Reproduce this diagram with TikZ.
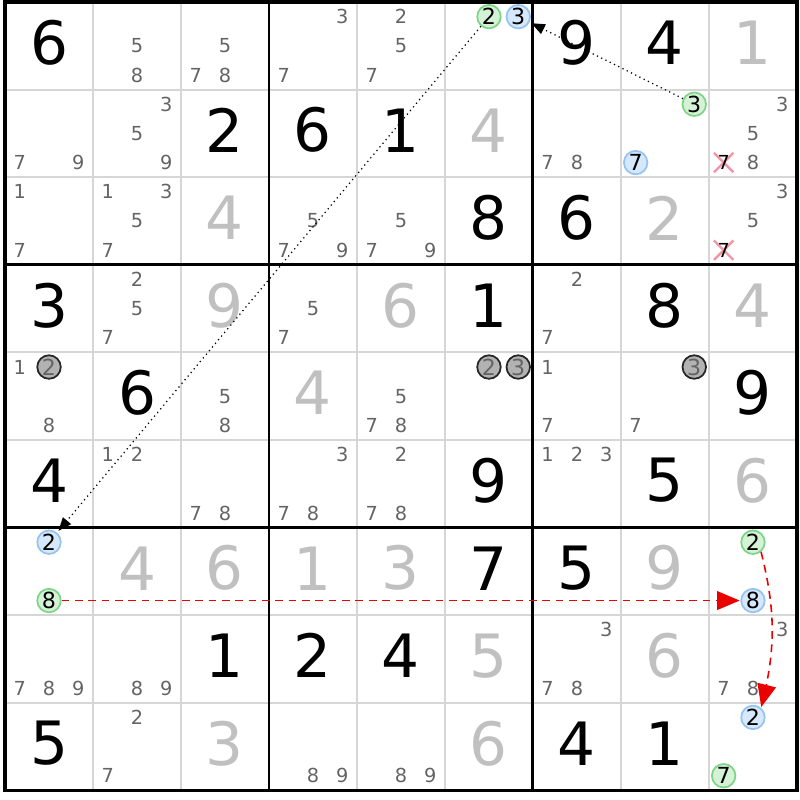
\documentclass[tikz,border=0pt]{standalone}
\usepackage{fontspec}
\setmainfont{DejaVu Sans}
\usetikzlibrary{arrows}
\usetikzlibrary{arrows.meta}
\usetikzlibrary{shapes.misc}

\definecolor{solvedgray}{RGB}{192,192,192}
\definecolor{candgray}{RGB}{100,100,100}
\definecolor{gridgray}{RGB}{214,214,214}
\definecolor{ongreen}{RGB}{214,242,214}
\definecolor{ongreenline}{RGB}{125,214,135}
\definecolor{offblue}{RGB}{214,232,252}
\definecolor{offblueline}{RGB}{150,196,242}
\definecolor{pinkx}{RGB}{242,150,165}
\definecolor{linkred}{RGB}{235,0,0}

\begin{document}
\begin{tikzpicture}[x=0.88cm, y=0.876cm,
  given/.style={font=\fontsize{17}{17}\selectfont, inner sep=0pt, yshift=0.9pt},
  solved/.style={given, text=solvedgray},
  cand/.style={font=\fontsize{5.5}{6}\selectfont, text=candgray, inner sep=0pt},
  oncand/.style={circle, draw=ongreenline, fill=ongreen, line width=0.5pt, inner sep=0pt, minimum size=2.35mm, font=\fontsize{6.3}{7}\selectfont},
  offcand/.style={oncand, draw=offblueline, fill=offblue},
  pivot/.style={oncand, draw=black!85, fill=black!30, text=candgray},
  xmark/.style={cross out, draw=pinkx, line width=0.7pt, minimum size=1.7mm, inner sep=0pt},
  cellline/.style={draw=gridgray, line width=0.55pt},
  boxline/.style={draw=black, line width=0.85pt},
  weak/.style={densely dotted, line width=0.35pt, -{Triangle[length=3.8pt, width=3pt]}, shorten >=0.6pt},
  strong/.style={draw=linkred, line width=0.45pt, dash pattern=on 2.2pt off 1.6pt, -triangle 45, shorten >=0.2pt}]

\useasboundingbox (-0.057,0.023) rectangle (9.034,-9.110);

% grid
\foreach \i in {1,2,4,5,7,8} {
  \draw[cellline] (\i,0) -- (\i,-9);
  \draw[cellline] (0,-\i) -- (9,-\i);
}
\foreach \i in {3,6} {
  \draw[boxline] (\i,0) -- (\i,-9);
  \draw[boxline] (0,-\i) -- (9,-\i);
}
\draw[boxline, line width=1pt] (0,0) rectangle (9,-9);

% givens and solved cells
\foreach \c/\r/\d in {0/0/6, 6/0/9, 7/0/4, 2/1/2, 3/1/6, 4/1/1, 5/2/8, 6/2/6,
  0/3/3, 5/3/1, 7/3/8, 1/4/6, 8/4/9, 0/5/4, 5/5/9, 7/5/5, 5/6/7, 6/6/5,
  2/7/1, 3/7/2, 4/7/4, 0/8/5, 6/8/4, 7/8/1}
  \node[given] (G-\c-\r) at (\c+0.5,-\r-0.5) {\d};
\foreach \c/\r/\d in {8/0/1, 5/1/4, 2/2/4, 7/2/2, 2/3/9, 4/3/6, 8/3/4, 3/4/4,
  8/5/6, 1/6/4, 2/6/6, 3/6/1, 4/6/3, 7/6/9, 5/7/5, 7/7/6, 2/8/3, 5/8/6}
  \node[solved] (S-\c-\r) at (\c+0.5,-\r-0.5) {\d};

% candidates
\foreach \c/\r/\d in {1/0/5, 1/0/8, 2/0/5, 2/0/7, 2/0/8, 3/0/3, 3/0/7, 4/0/2, 4/0/5, 4/0/7,
  0/1/7, 0/1/9, 1/1/3, 1/1/5, 1/1/9, 6/1/7, 6/1/8, 8/1/3, 8/1/5, 8/1/8,
  0/2/1, 0/2/7, 1/2/1, 1/2/3, 1/2/5, 1/2/7, 3/2/5, 3/2/7, 3/2/9, 4/2/5, 4/2/7, 4/2/9, 8/2/3, 8/2/5,
  1/3/2, 1/3/5, 1/3/7, 3/3/5, 3/3/7, 6/3/2, 6/3/7,
  0/4/1, 0/4/8, 2/4/5, 2/4/8, 4/4/5, 4/4/7, 4/4/8, 6/4/1, 6/4/7, 7/4/7,
  1/5/1, 1/5/2, 2/5/7, 2/5/8, 3/5/3, 3/5/7, 3/5/8, 4/5/2, 4/5/7, 4/5/8, 6/5/1, 6/5/2, 6/5/3,
  0/7/7, 0/7/8, 0/7/9, 1/7/8, 1/7/9, 6/7/3, 6/7/7, 6/7/8, 8/7/3, 8/7/7, 8/7/8,
  1/8/2, 1/8/7, 3/8/8, 3/8/9, 4/8/8, 4/8/9} {
  \pgfmathsetmacro\cx{\c+(2*mod(\d-1,3)+1)/6}
  \pgfmathsetmacro\cy{-\r-(2*int((\d-1)/3)+1)/6}
  \node[cand] (K-\c-\r-\d) at (\cx,\cy) {\d};
}

% eliminated 7s
\node[xmark] (XR2C9) at (8.167,-1.833) {};
\node[xmark] (XR3C9) at (8.167,-2.833) {};
\node[cand, text=black] (ElimR2C9) at (8.167,-1.833) {7};
\node[cand, text=black] (ElimR3C9) at (8.167,-2.833) {7};

% pivots
\node[pivot] (PivR5C1) at (0.5,-4.167) {2};
\node[pivot] (PivR5C6a) at (5.5,-4.167) {2};
\node[pivot] (PivR5C6b) at (5.833,-4.167) {3};
\node[pivot] (PivR5C8) at (7.833,-4.167) {3};

% chain
\node[oncand] (OnR1C6) at (5.5,-0.167) {2};
\node[offcand] (OffR1C6) at (5.833,-0.167) {3};
\node[oncand] (OnR2C8) at (7.833,-1.167) {3};
\node[offcand] (OffR2C8) at (7.167,-1.833) {7};
\node[offcand] (OffR7C1) at (0.5,-6.167) {2};
\node[oncand] (OnR7C1) at (0.5,-6.833) {8};
\node[oncand] (OnR7C9) at (8.5,-6.167) {2};
\node[offcand] (OffR7C9) at (8.5,-6.833) {8};
\node[offcand] (OffR9C9) at (8.5,-8.167) {2};
\node[oncand] (OnR9C9) at (8.167,-8.833) {7};

\draw[weak] (OnR2C8) -- (OffR1C6);
\draw[weak] (OnR1C6) -- (OffR7C1);
\draw[strong] (OnR7C1) -- (OffR7C9);
\draw[strong] (OnR7C9.-50) to[out=-76, in=76] (OffR9C9.50);

\end{tikzpicture}
\end{document}
